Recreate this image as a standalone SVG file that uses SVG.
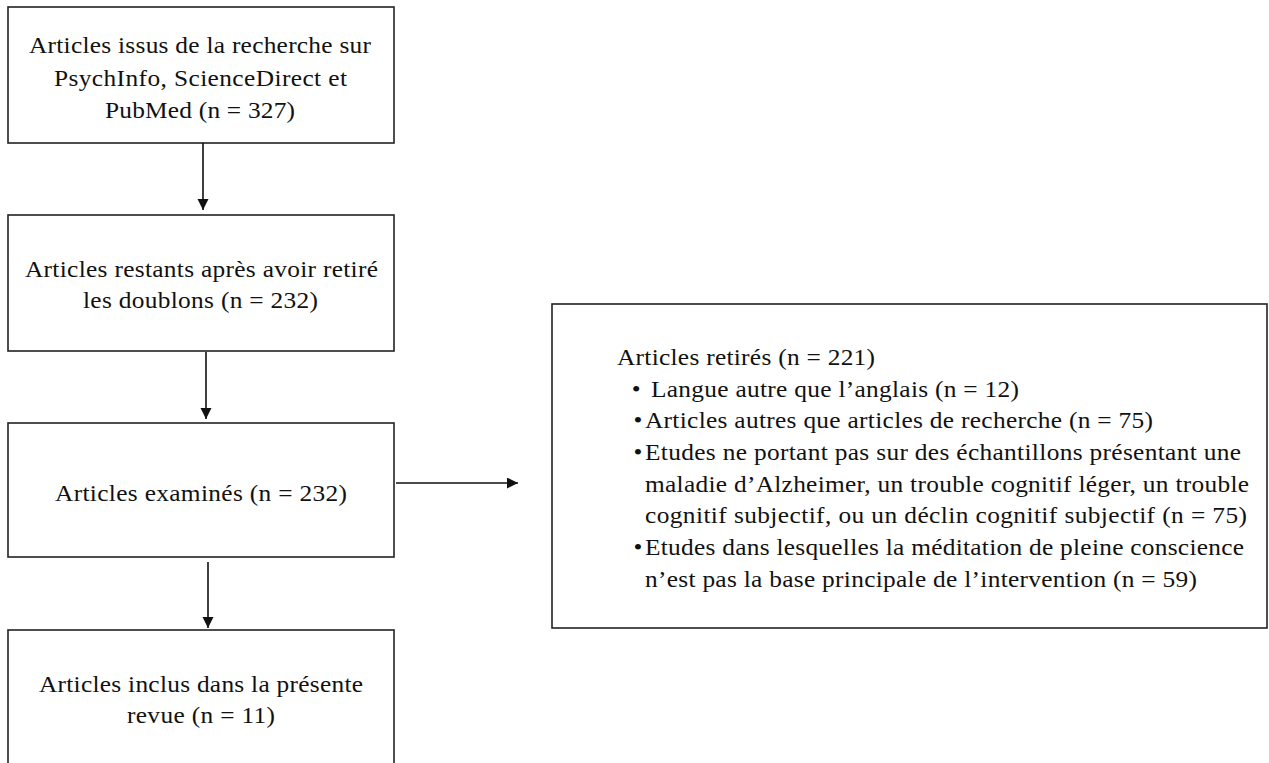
<svg xmlns="http://www.w3.org/2000/svg" width="1269" height="763" viewBox="0 0 1269 763">
<style>
.box{fill:#fff;stroke:#222;stroke-width:1.6}
.t{font-family:"Liberation Serif","Times New Roman",serif;font-size:23.5px;fill:#111}
.c{stroke:#111;stroke-width:1.6;fill:none}
</style>
<defs>
<marker id="ah" markerUnits="userSpaceOnUse" markerWidth="12" markerHeight="12" refX="11" refY="5.5" orient="auto">
<path d="M0,0 L11,5.5 L0,11 z" fill="#111"/>
</marker>
</defs>
<rect width="1269" height="763" fill="#fff"/>
<g id="n1">
<rect class="box" x="8" y="7" width="386" height="136"/>
<g transform="scale(1.08 1)">
<text class="t" x="26.85" y="53" textLength="316.67" lengthAdjust="spacing">Articles issus de la recherche sur</text>
<text class="t" x="50" y="86" textLength="271.3" lengthAdjust="spacing">PsychInfo, ScienceDirect et</text>
<text class="t" x="97.22" y="118" textLength="175.93" lengthAdjust="spacing">PubMed (n = 327)</text>
</g>
</g>
<g id="n2">
<rect class="box" x="8" y="215" width="386" height="136"/>
<g transform="scale(1.08 1)">
<text class="t" x="23.15" y="277" textLength="326.85" lengthAdjust="spacing">Articles restants après avoir retiré</text>
<text class="t" x="76.85" y="308" textLength="217.59" lengthAdjust="spacing">les doublons (n = 232)</text>
</g>
</g>
<g id="n3">
<rect class="box" x="8" y="423" width="386" height="134"/>
<g transform="scale(1.08 1)">
<text class="t" x="50.93" y="501" textLength="270.37" lengthAdjust="spacing">Articles examinés (n = 232)</text>
</g>
</g>
<g id="n4">
<rect class="box" x="8" y="630" width="386" height="150"/>
<g transform="scale(1.08 1)">
<text class="t" x="36.11" y="692" textLength="300" lengthAdjust="spacing">Articles inclus dans la présente</text>
<text class="t" x="117.59" y="723" textLength="137.04" lengthAdjust="spacing">revue (n = 11)</text>
</g>
</g>
<g id="n5">
<rect class="box" x="552" y="304" width="715" height="324"/>
<g transform="scale(1.08 1)">
<text class="t" x="571.3" y="365" textLength="238.89" lengthAdjust="spacing">Articles retirés (n = 221)</text>
<text class="t" x="585" y="397">•</text>
<text class="t" x="602.78" y="397" textLength="340.74" lengthAdjust="spacing">Langue autre que l’anglais (n = 12)</text>
<text class="t" x="586.5" y="428">•</text>
<text class="t" x="597.22" y="428" textLength="470.37" lengthAdjust="spacing">Articles autres que articles de recherche (n = 75)</text>
<text class="t" x="586.5" y="460">•</text>
<text class="t" x="597.22" y="460" textLength="551.85" lengthAdjust="spacing">Etudes ne portant pas sur des échantillons présentant une</text>
<text class="t" x="597.22" y="492" textLength="559.26" lengthAdjust="spacing">maladie d’Alzheimer, un trouble cognitif léger, un trouble</text>
<text class="t" x="597.22" y="523" textLength="557.41" lengthAdjust="spacing">cognitif subjectif, ou un déclin cognitif subjectif  (n = 75)</text>
<text class="t" x="586.5" y="555">•</text>
<text class="t" x="597.22" y="555" textLength="554.63" lengthAdjust="spacing">Etudes dans lesquelles la méditation de pleine conscience</text>
<text class="t" x="597.22" y="587" textLength="511.11" lengthAdjust="spacing">n’est pas la base principale de l’intervention (n = 59)</text>
</g>
</g>
<g id="connectors">
<line class="c" x1="203" y1="143" x2="203" y2="210" marker-end="url(#ah)"/>
<line class="c" x1="206" y1="352" x2="206" y2="419" marker-end="url(#ah)"/>
<line class="c" x1="208" y1="562" x2="208" y2="628" marker-end="url(#ah)"/>
<line class="c" x1="396" y1="483" x2="518" y2="483" marker-end="url(#ah)"/>
</g>
</svg>
